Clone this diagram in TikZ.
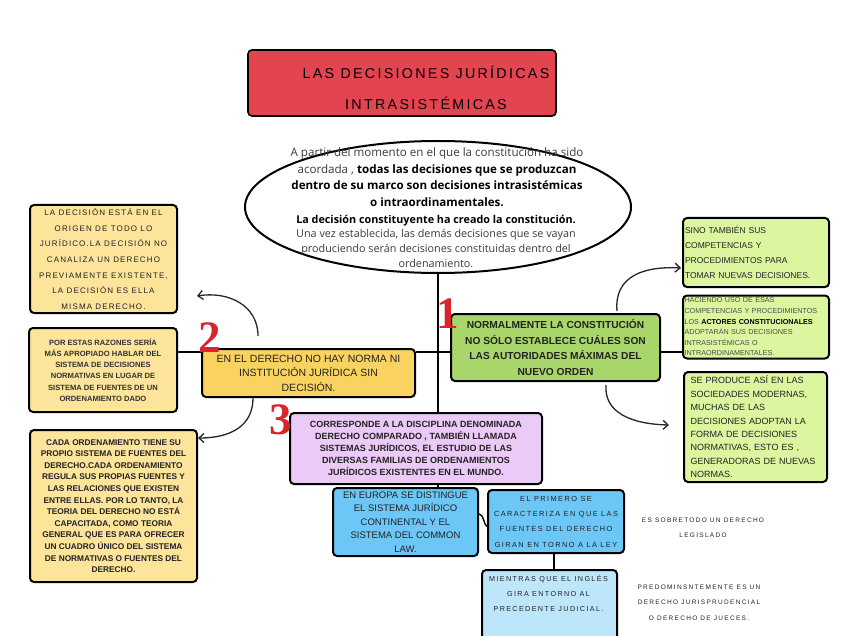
\documentclass[tikz,border=0pt]{standalone}
\usepackage{fontspec}
\setmainfont{Liberation Sans}
\newfontfamily\osans{Open Sans}
\newfontfamily\handA[LetterSpace=14]{Liberation Sans}
\newfontfamily\handT[LetterSpace=16]{Liberation Sans}
\newfontfamily\handP[LetterSpace=19]{Liberation Sans}
\newfontfamily\handF[LetterSpace=20]{Liberation Sans}
\newfontfamily\numfont{Liberation Serif}
\usetikzlibrary{arrows.meta,calc,shapes.geometric}
\definecolor{titlered}{HTML}{E2454F}
\definecolor{gold}{HTML}{F9D25F}
\definecolor{paleyellow}{HTML}{FDE49B}
\definecolor{leafgreen}{HTML}{A9D66B}
\definecolor{palegreen}{HTML}{DCF6A0}
\definecolor{lilac}{HTML}{EBCAF7}
\definecolor{sky}{HTML}{6DC7F6}
\definecolor{palesky}{HTML}{BEE6FB}
\definecolor{numred}{HTML}{D8242C}
\definecolor{ink}{HTML}{222222}
\definecolor{txtgray}{HTML}{3A3A3A}
\tikzset{
  box/.style={draw=black, line width=2pt, rounded corners=4pt, inner sep=0pt, align=center, text=ink},
  conn/.style={line width=1.8pt, draw=black},
  arr/.style={line width=1.3pt, draw=black!85, -{Straight Barb[length=5pt,width=9pt]}},
  num/.style={text=numred, font=\numfont\bfseries\fontsize{45}{45}\selectfont, inner sep=0pt},
}
\begin{document}
\begin{tikzpicture}[x=1pt,y=-1pt]
\useasboundingbox (0,0) rectangle (848,636);
\clip (0,0) rectangle (848,636);

% title
\node[box, line width=1.6pt, fill=titlered, minimum width=308pt, minimum height=66pt] (titlebox) at (402,83) {};
\node[font=\handT\fontsize{14.3}{31}\selectfont, align=center, text=black] (titletext) at (426,88) {LAS DECISIONES JURÍDICAS\\INTRASISTÉMICAS};

% ellipse
\node[ellipse, draw=black, line width=2pt, minimum width=386pt, minimum height=132pt, inner sep=0pt] (ell) at (438,207) {};
\node[font=\osans\fontsize{11.6}{16.5}\selectfont, align=center, text=txtgray] (etexta) at (437,177)
 {A partir del momento en el que la constitución ha sido\\
  acordada , \textcolor{black}{\bfseries todas las decisiones que se produzcan}\\
  \textcolor{black}{\bfseries dentro de su marco son decisiones intrasistémicas}\\
  \textcolor{black}{\bfseries o intraordinamentales.}};
\node[font=\osans\fontsize{10.8}{14.7}\selectfont, align=center, text=txtgray] (etextb) at (436,241)
 {\textcolor{black}{\bfseries La decisión constituyente ha creado la constitución.}\\
  Una vez establecida, las demás decisiones que se vayan\\
  produciendo serán decisiones constituidas dentro del\\
  ordenamiento.};

% left boxes
\node[box, fill=paleyellow, minimum width=147pt, minimum height=108pt, font=\handA\fontsize{8}{15.7}\selectfont] (boxA) at (103.5,259)
 {LA DECISIÓN ESTÁ EN EL\\ORIGEN DE TODO LO\\JURÍDICO.LA DECISIÓN NO\\CANALIZA UN DERECHO\\PREVIAMENTE EXISTENTE,\\LA DECISIÓN ES ELLA\\MISMA DERECHO.};
\node[box, fill=paleyellow, minimum width=148pt, minimum height=84pt, font=\bfseries\fontsize{7.6}{11.3}\selectfont, text=black!80] (boxB) at (103,370)
 {POR ESTAS RAZONES SERÍA\\MÁS APROPIADO HABLAR DEL\\SISTEMA DE DECISIONES\\NORMATIVAS EN LUGAR DE\\SISTEMA DE FUENTES DE UN\\ORDENAMIENTO DADO};
\node[box, fill=paleyellow, minimum width=167pt, minimum height=152pt, font=\bfseries\fontsize{8.3}{11.6}\selectfont] (boxC) at (113.5,506)
 {CADA ORDENAMIENTO TIENE SU\\PROPIO SISTEMA DE FUENTES DEL\\DERECHO.CADA ORDENAMIENTO\\REGULA SUS PROPIAS FUENTES Y\\LAS RELACIONES QUE EXISTEN\\ENTRE ELLAS. POR LO TANTO, LA\\TEORIA DEL DERECHO NO ESTÁ\\CAPACITADA, COMO TEORIA\\GENERAL QUE ES PARA OFRECER\\UN CUADRO ÚNICO DEL SISTEMA\\DE NORMATIVAS O FUENTES DEL\\DERECHO.};

% middle boxes
\node[box, fill=gold, minimum width=213pt, minimum height=48pt, font=\fontsize{10.5}{14.5}\selectfont] (boxY) at (308.5,373)
 {EN EL DERECHO NO HAY NORMA NI\\INSTITUCIÓN JURÍDICA SIN\\DECISIÓN.};
\node[box, fill=leafgreen, minimum width=209pt, minimum height=67pt, font=\bfseries\fontsize{10.2}{15.5}\selectfont] (green) at (555.5,347.5)
 {NORMALMENTE LA CONSTITUCIÓN\\NO SÓLO ESTABLECE CUÁLES SON\\LAS AUTORIDADES MÁXIMAS DEL\\NUEVO ORDEN};

% right boxes
\node[box, fill=palegreen, minimum width=146pt, minimum height=69pt, text width=142pt, inner xsep=2pt, align=left, font=\fontsize{8.5}{15}\selectfont] (sino) at (756,252.5)
 {SINO TAMBIÉN SUS\\COMPETENCIAS Y\\PROCEDIMIENTOS PARA\\TOMAR NUEVAS DECISIONES.};
\node[box, fill=palegreen, minimum width=146pt, minimum height=63pt, text width=143pt, inner xsep=1.5pt, align=left, text=black!70, font=\fontsize{7.2}{10.6}\selectfont] (hacienda) at (756,327)
 {\hyphenpenalty=10000 HACIENDO USO DE ESAS\\COMPETENCIAS Y PROCEDIMIENTOS\\LOS \textcolor{black}{\bfseries ACTORES CONSTITUCIONALES}\\ADOPTARÁN SUS DECISIONES\\INTRASISTÉMICAS O\\INTRAORDINAMENTALES.};
\node[box, fill=palegreen, minimum width=143pt, minimum height=110pt, text width=130pt, inner xsep=6.5pt, align=left, font=\fontsize{9}{13.4}\selectfont] (produce) at (755.5,427)
 {SE PRODUCE ASÍ EN LAS\\SOCIEDADES MODERNAS,\\MUCHAS DE LAS\\DECISIONES ADOPTAN LA\\FORMA DE DECISIONES\\NORMATIVAS, ESTO ES ,\\GENERADORAS DE NUEVAS\\NORMAS.};

% lower boxes
\node[box, fill=lilac, minimum width=252pt, minimum height=71pt, font=\bfseries\fontsize{9}{12}\selectfont] (purple) at (416,448.5)
 {CORRESPONDE A LA DISCIPLINA DENOMINADA\\DERECHO COMPARADO , TAMBIÉN LLAMADA\\SISTEMAS JURÍDICOS, EL ESTUDIO DE LAS\\DIVERSAS FAMILIAS DE ORDENAMIENTOS\\JURÍDICOS EXISTENTES EN EL MUNDO.};
\node[box, fill=sky, minimum width=145pt, minimum height=68pt, font=\fontsize{9.5}{13.6}\selectfont] (europa) at (405.5,522)
 {EN EUROPA SE DISTINGUE\\EL SISTEMA JURÍDICO\\CONTINENTAL Y EL\\SISTEMA DEL COMMON\\LAW.};
\node[box, fill=sky, minimum width=136pt, minimum height=63pt, font=\handP\fontsize{7.4}{15.3}\selectfont] (primero) at (556,521.5)
 {EL PRIMERO SE\\CARACTERIZA EN QUE LAS\\FUENTES DEL DERECHO\\GIRAN EN TORNO A LA LEY};
\node[box, fill=palesky, minimum width=135pt, minimum height=80pt] (mientras) at (549.5,610) {};
\node[font=\handP\fontsize{7.2}{15}\selectfont, align=center, text=ink] (mientrastext) at (548.5,593)
 {MIENTRAS QUE EL INGLÉS\\GIRA ENTORNO AL\\PRECEDENTE JUDICIAL.};

% free texts
\node[font=\handF\fontsize{6.5}{15.5}\selectfont, align=center, text=ink] (freea) at (703,528)
 {ES SOBRETODO UN DERECHO\\LEGISLADO};
\node[font=\handF\fontsize{6.5}{15.5}\selectfont, align=center, text=ink] (freeb) at (699,602.5)
 {PREDOMINSNTEMENTE ES UN\\DERECHO JURISPRUDENCIAL\\O DERECHO DE JUECES.};

% connectors
\coordinate (hl) at (0,352);
\draw[conn] (boxB.east |- hl) -- (boxY.west |- hl);
\draw[conn] (boxY.east |- hl) -- (green.west |- hl);
\draw[conn] (green.east |- hl) -- (hacienda.west |- hl);
\draw[conn] (ell.south) -- (ell.south |- purple.north);
\draw[conn] (ell.south |- purple.south) -- (ell.south |- europa.north);
\draw[conn, line width=1.4pt] ($(europa.east)+(0,-8)$) .. controls (484,514) and (484,526) .. ($(primero.west)+(0,5)$);
\draw[conn] ($(primero.south)+(-2,0)$) -- ($(primero.south |- mientras.north)+(-2,0)$);

% curved arrows
\coordinate (tipa) at (197,296);
\coordinate (tipc) at (198,438);
\coordinate (tipb) at (681,268);
\coordinate (tipd) at (669,425);
\draw[arr] ($(boxY.north)+(-50.5,-12)$) .. controls (258,305) and (228,291) .. (tipa);
\draw[arr] ($(boxY.south)+(-55.5,0)$) .. controls (253,425) and (232,438) .. (tipc);
\draw[arr] ($(green.north)+(61.5,-2)$) .. controls (614,276) and (644,266) .. (tipb);
\draw[arr] ($(green.south)+(50.5,3)$) .. controls (604,412) and (630,424) .. (tipd);

% numbers
\node[num] (n1) at (448,313.5) {1};
\node[num] (n2) at (210,337.5) {2};
\node[num] (n3) at (281,420) {3};
\end{tikzpicture}
\end{document}
